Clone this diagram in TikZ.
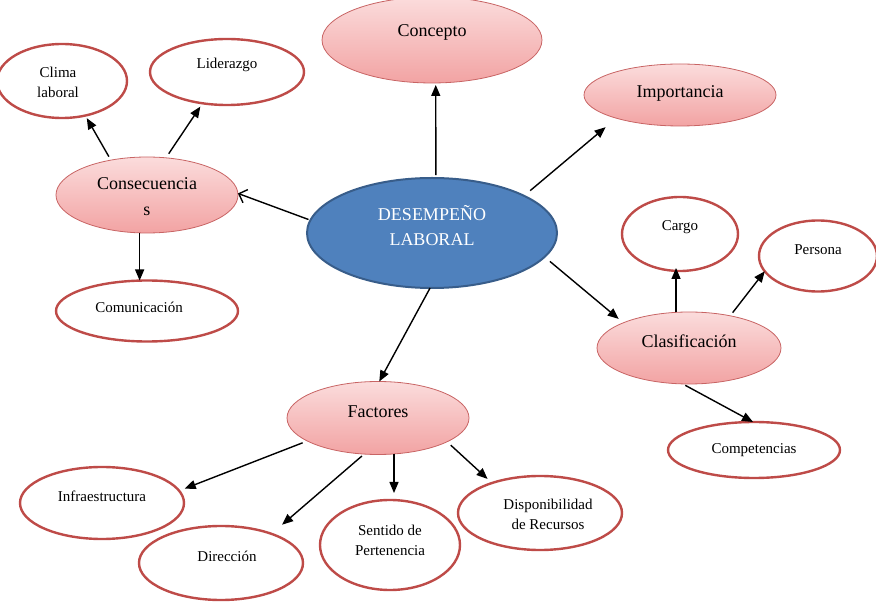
\documentclass[tikz,border=0pt]{standalone}
\usepackage{fontspec}
\setmainfont{Liberation Serif}
\usetikzlibrary{arrows.meta,shapes.geometric}
\definecolor{pinkT}{HTML}{FBDCDC}
\definecolor{pinkB}{HTML}{F2A3A3}
\definecolor{pinkD}{HTML}{C86464}
\definecolor{redB}{HTML}{BE4B48}
\definecolor{blueF}{HTML}{4F81BD}
\definecolor{blueD}{HTML}{385D8A}
\begin{document}
\begin{tikzpicture}[x=1pt,y=-1pt,
 pinkell/.style={ellipse, draw=pinkD, line width=0.8pt, top color=pinkT, bottom color=pinkB, inner sep=0pt, outer sep=0pt},
 whiteell/.style={ellipse, draw=redB, line width=2.4pt, fill=white, inner sep=0pt, outer sep=0pt},
 blueell/.style={ellipse, draw=blueD, line width=2pt, fill=blueF, inner sep=0pt, outer sep=0pt},
 bigtxt/.style={font=\fontsize{18}{26}\selectfont, align=center, inner sep=0pt},
 smalltxt/.style={font=\fontsize{15}{20}\selectfont, align=center, inner sep=0pt},
 arr/.style={line width=1.4pt, -{Triangle[length=11pt,width=9pt]}},
 openarr/.style={line width=1.4pt, -{Straight Barb[length=7pt,width=14pt]}},
]
\useasboundingbox (0,0) rectangle (876,609);

% central
\node[blueell, minimum width=250pt, minimum height=110pt,
  label={[bigtxt, text=white, yshift=7.5pt, font=\fontsize{18}{25}\selectfont]center:DESEMPEÑO\\LABORAL}] (central) at (432,233) {};

% pink nodes
\node[pinkell, minimum width=220pt, minimum height=86pt,
  label={[bigtxt, yshift=8pt]center:Concepto}] (concepto) at (432,40) {};
\node[pinkell, minimum width=192pt, minimum height=62pt,
  label={[bigtxt, yshift=2pt]center:Importancia}] (importancia) at (680,95) {};
\node[pinkell, minimum width=182pt, minimum height=76pt,
  label={[bigtxt, yshift=-2pt]center:Consecuencia\\s}] (consec) at (147,195) {};
\node[pinkell, minimum width=184pt, minimum height=72pt,
  label={[bigtxt, yshift=7pt]center:Clasificación}] (clasif) at (689,348) {};
\node[pinkell, minimum width=182pt, minimum height=73pt,
  label={[bigtxt, yshift=6pt]center:Factores}] (factores) at (378,418) {};

% white nodes
\node[whiteell, minimum width=130pt, minimum height=74pt,
  label={[smalltxt, xshift=-4pt, yshift=-1pt]center:Clima\\laboral}] (clima) at (62,81) {};
\node[whiteell, minimum width=154pt, minimum height=66pt,
  label={[smalltxt, yshift=7pt]center:Liderazgo}] (liderazgo) at (227,72) {};
\node[whiteell, minimum width=182pt, minimum height=61pt,
  label={[smalltxt, xshift=-8pt, yshift=4pt]center:Comunicación}] (comunic) at (147,311) {};
\node[whiteell, minimum width=116pt, minimum height=74pt,
  label={[smalltxt, yshift=7pt]center:Cargo}] (cargo) at (680,234) {};
\node[whiteell, minimum width=118pt, minimum height=71pt,
  label={[smalltxt, yshift=6pt]center:Persona}] (persona) at (818,256) {};
\node[whiteell, minimum width=172pt, minimum height=56pt,
  label={[smalltxt]center:Competencias}] (compet) at (754,450) {};
\node[whiteell, minimum width=164pt, minimum height=72pt,
  label={[smalltxt, yshift=7pt]center:Infraestructura}] (infra) at (102,503) {};
\node[whiteell, minimum width=164pt, minimum height=74pt,
  label={[smalltxt, xshift=6pt, yshift=7pt]center:Dirección}] (direccion) at (221,563) {};
\node[whiteell, minimum width=140pt, minimum height=90pt,
  label={[smalltxt, yshift=5pt]center:Sentido de\\Pertenencia}] (sentido) at (390,545) {};
\node[whiteell, minimum width=164pt, minimum height=74pt,
  label={[smalltxt, xshift=8pt, yshift=-1pt]center:Disponibilidad\\de Recursos}] (dispon) at (540,513) {};

% connectors
\draw[arr, shorten <=3pt, shorten >=2pt] (central.86) -- (concepto.-85);
\draw[arr, shorten <=8pt, shorten >=14pt] (central.22) -- (importancia.200);
\draw[openarr, shorten <=2pt] (central.174) -- (consec.1);
\draw[arr] (central.-92) -- (factores.88);
\draw[arr, shorten <=7pt, shorten >=6pt] (central.-12) -- (clasif.159);
\draw[arr, shorten <=4pt, shorten >=3pt] (consec.136) -- (clima.-56);
\draw[arr, shorten <=5pt, shorten >=4pt] (consec.63) -- (liderazgo.232);
\draw[arr] (consec.-101) -- (consec.-101 |- comunic.north);
\draw[arr, shorten >=-3pt] (clasif.110) -- (clasif.110 |- cargo.south);
\draw[arr, shorten <=4pt] (clasif.38) -- (persona.196);
\draw[arr, shorten <=3pt] (clasif.-100) -- (compet.92);
\draw[arr, shorten <=5pt, shorten >=6pt] (factores.198) -- (infra.9);
\draw[arr, shorten <=3pt, shorten >=14pt] (factores.249) -- (direccion.30);
\draw[arr, shorten >=7pt] (factores.-66) -- (factores.-66 |- sentido.north);
\draw[arr, shorten <=5pt, shorten >=6pt] (factores.-19) -- (dispon.148);
\end{tikzpicture}
\end{document}
